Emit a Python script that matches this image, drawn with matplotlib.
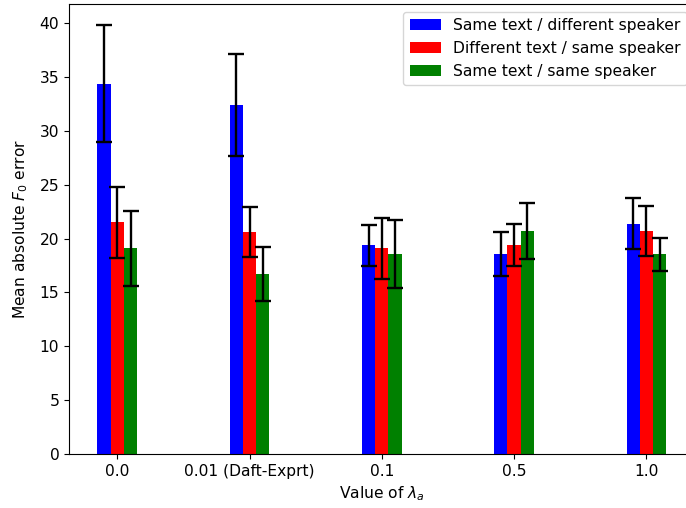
import matplotlib
matplotlib.use("Agg")
import matplotlib.pyplot as plt
import numpy as np


# Data
lambda_labels = ['0.0', '0.01 (Daft-Exprt)', '0.1', '0.5', '1.0']
series_labels = ['Same text / different speaker',
                 'Different text / same speaker',
                 'Same text / same speaker']
series_colors = ['b', 'r', 'g']

same_text_diff_spk = [34.4, 32.4, 19.4, 18.55, 21.4]
same_text_diff_spk_err = [5.4, 4.75, 1.9, 2.05, 2.4]
diff_text_same_spk = [21.5, 20.6, 19.1, 19.4, 20.7]
diff_text_same_spk_err = [3.3, 2.3, 2.85, 1.95, 2.3]
same_text_same_spk = [19.1, 16.7, 18.55, 20.7, 18.55]
same_text_same_spk_err = [3.5, 2.5, 3.15, 2.6, 1.55]


def main():
    plt.rcParams['font.size'] = 11.2

    means = [same_text_diff_spk, diff_text_same_spk, same_text_same_spk]
    errs = [same_text_diff_spk_err, diff_text_same_spk_err, same_text_same_spk_err]

    fig = plt.figure(figsize=(6.86, 5.08), dpi=100)
    # the original image is cropped on the right, so the axes run past the edge
    ax = fig.add_axes([0.1006, 0.1063, 0.912, 0.8858])

    x = np.arange(len(lambda_labels))
    width = 0.1
    for i in range(len(means)):
        ax.bar(x + (i - 1) * width, means[i], width, yerr=errs[i],
               color=series_colors[i], label=series_labels[i],
               capsize=6, error_kw=dict(ecolor='k', elinewidth=1.7, capthick=1.7))

    ax.set_xticks(x)
    ax.set_xticklabels(lambda_labels)
    ax.set_xlabel(r'Value of $\lambda_a$')
    ax.set_ylabel(r'Mean absolute $F_0$ error', labelpad=7)
    ax.legend(loc='upper right')

    plt.savefig('out.png', dpi=100)


if __name__ == "__main__":
    main()
